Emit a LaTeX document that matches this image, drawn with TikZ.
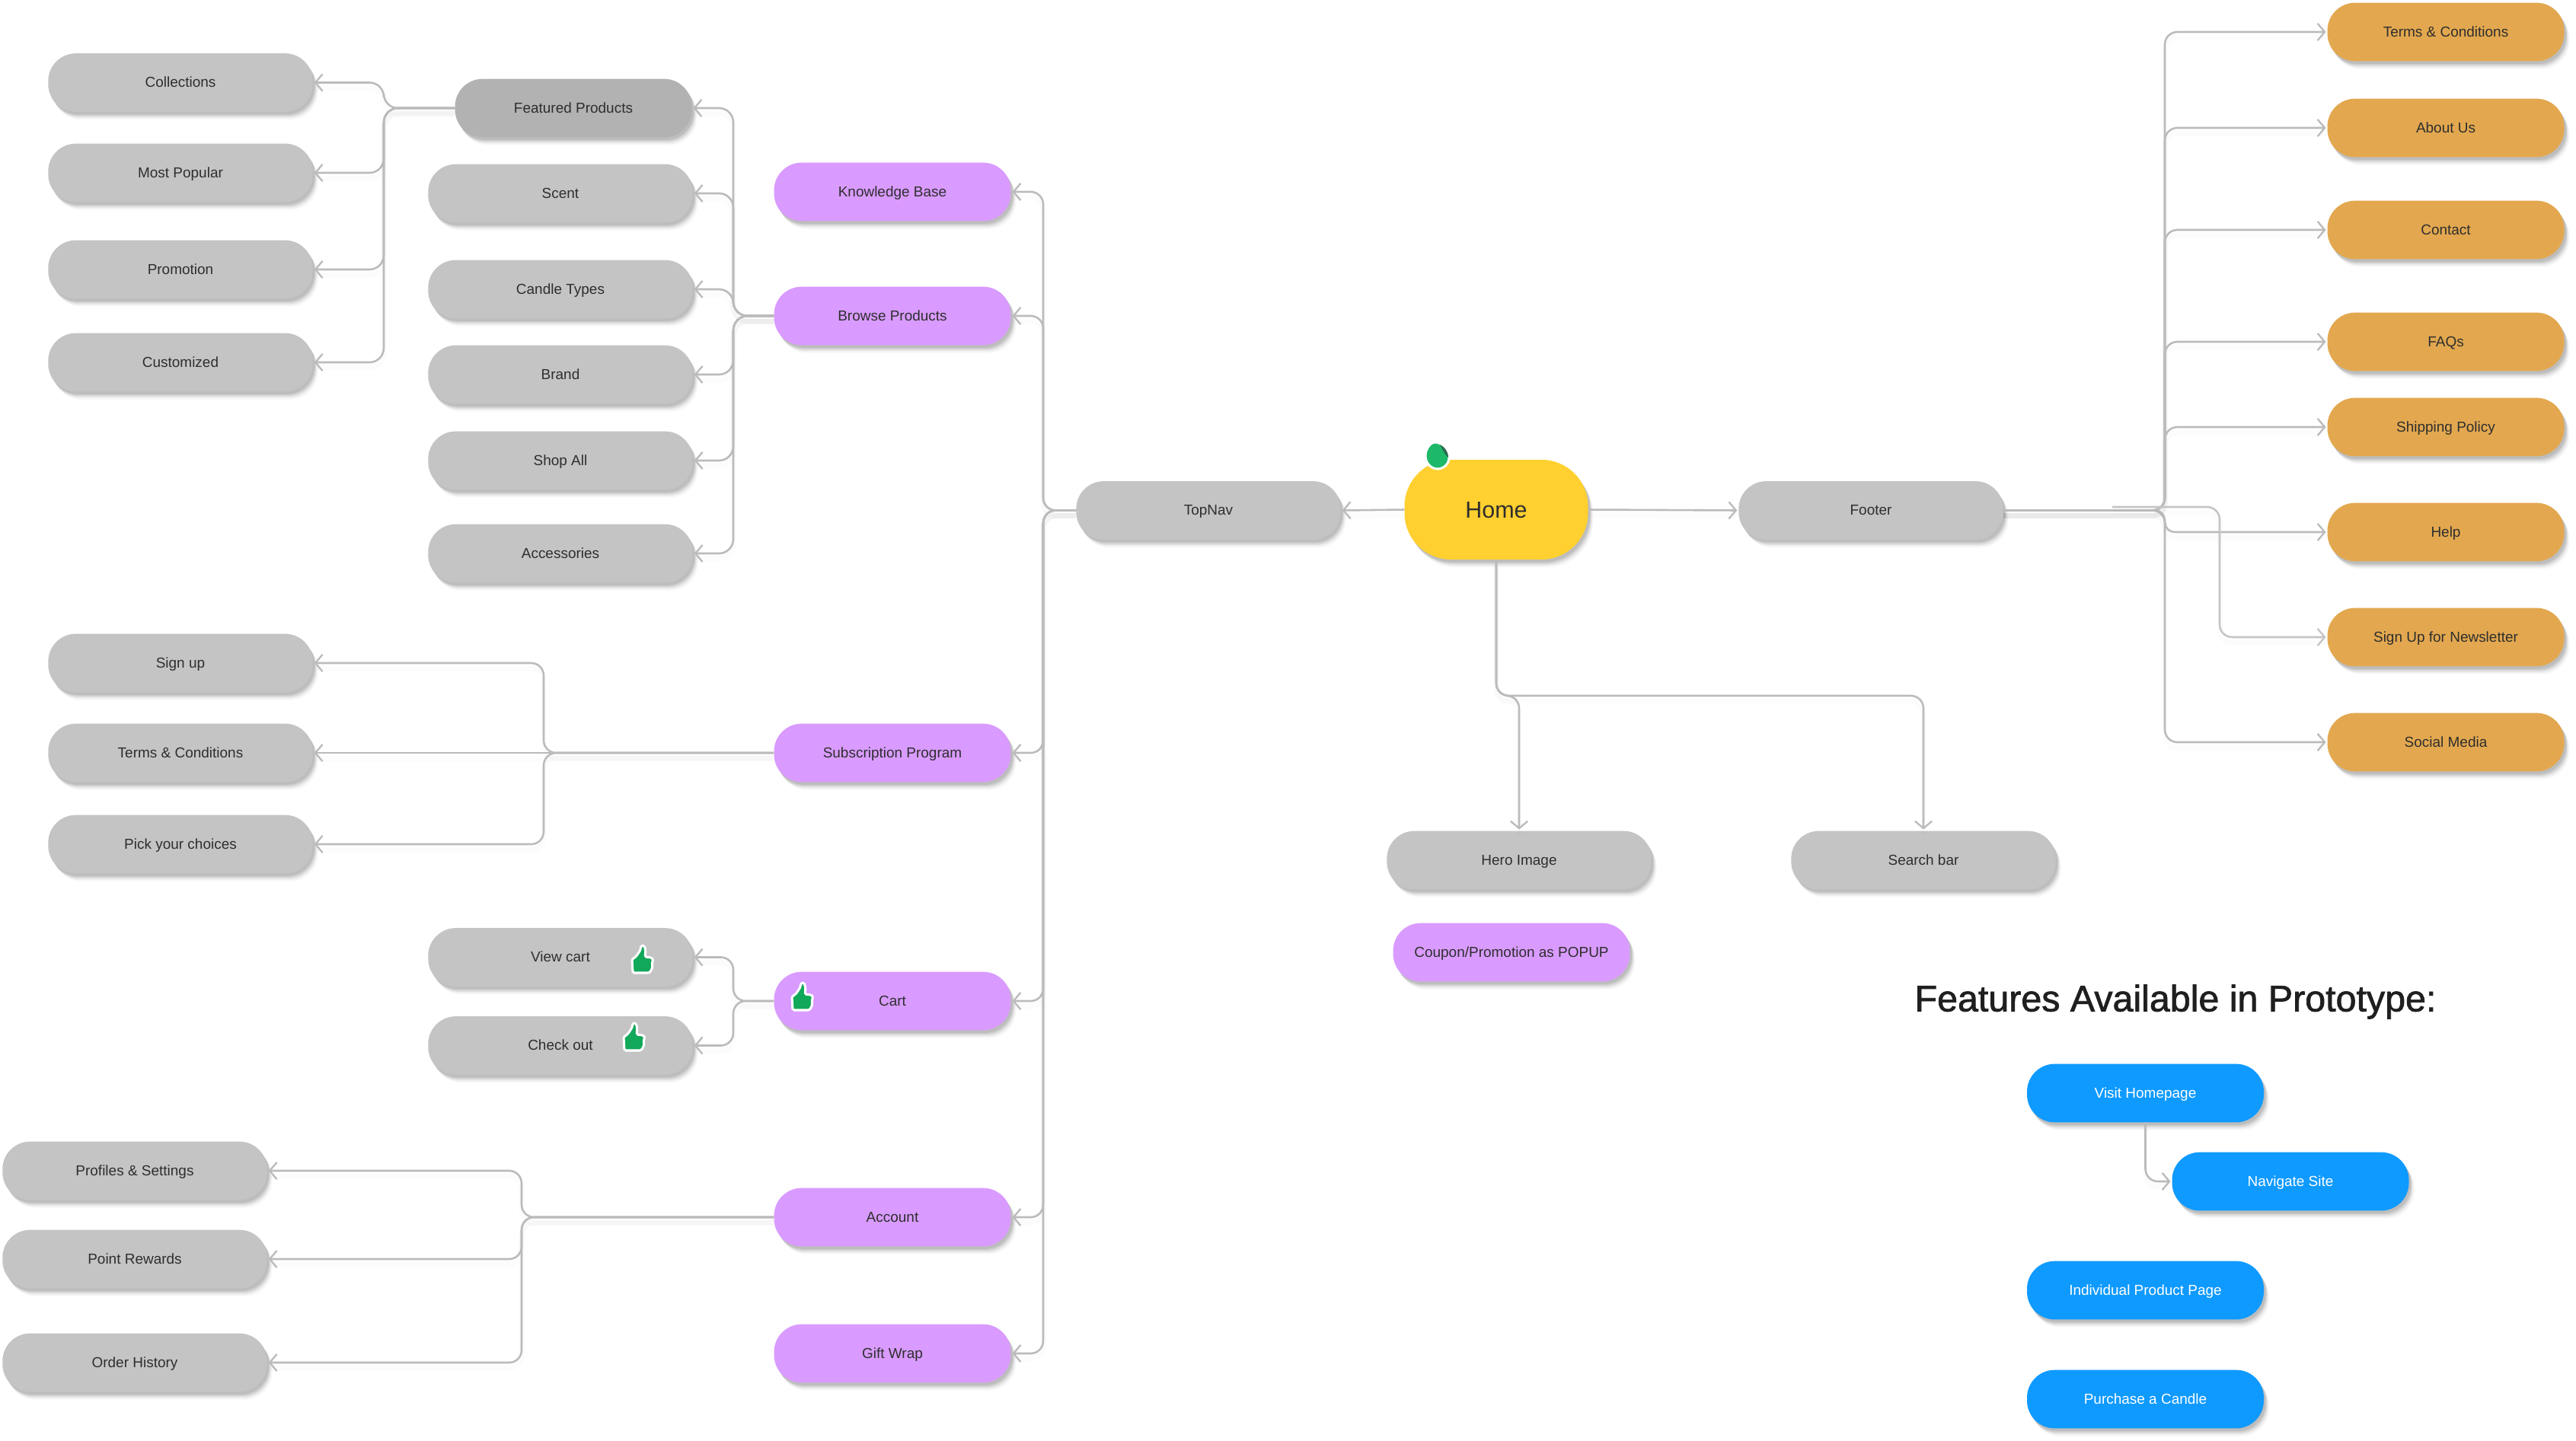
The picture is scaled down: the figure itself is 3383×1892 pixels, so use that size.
\documentclass[tikz,border=0pt]{standalone}
\usepackage{fontspec}
\setmainfont{Liberation Sans}
\newfontfamily\titlefont[FakeBold=1.5]{Liberation Sans}
\usetikzlibrary{arrows.meta,shadows,calc}
\definecolor{cgrey}{HTML}{C4C4C4}
\definecolor{cgreyd}{HTML}{B2B2B2}
\definecolor{cpurple}{HTML}{D99BFF}
\definecolor{corange}{HTML}{E3A84F}
\definecolor{cyellow}{HTML}{FFD02F}
\definecolor{cblue}{HTML}{0F9AFF}
\definecolor{cline}{HTML}{BBBBBB}
\definecolor{ctext}{HTML}{2E2E2E}
\definecolor{cthumb}{HTML}{12A85A}
\definecolor{cleaf}{HTML}{1DB868}
\definecolor{cfold}{HTML}{2A6B50}
\tikzset{
  softshadow/.style={
    general shadow={fill=black,opacity=.025,shadow xshift=6pt,shadow yshift=-9pt},
    general shadow={fill=black,opacity=.04,shadow xshift=5pt,shadow yshift=-7.5pt},
    general shadow={fill=black,opacity=.06,shadow xshift=4pt,shadow yshift=-6pt},
    general shadow={fill=black,opacity=.08,shadow xshift=3pt,shadow yshift=-4.5pt},
    general shadow={fill=black,opacity=.08,shadow xshift=2pt,shadow yshift=-3pt}},
  card/.style={rectangle,rounded corners=31pt,inner sep=0pt,softshadow,text=ctext,
    font=\fontsize{16.2}{19}\selectfont,text height=10.6pt,text depth=0pt,minimum height=65.5pt},
  wide/.style={card,minimum width=296.5pt},
  narrow/.style={card,minimum width=265.4pt},
  greycard/.style={wide,fill=cgrey},
  purplecard/.style={narrow,fill=cpurple},
  orangecard/.style={narrow,fill=corange},
  bluecard/.style={narrow,fill=cblue,text=white},
  conn/.style={draw=cline,line width=2.2pt,rounded corners=14pt,
    -{Straight Barb[length=8pt,width=19pt,line width=2pt]},shorten >=1.5pt,
    preaction={draw=black,draw opacity=.012,line width=6pt,arrows=-,transform canvas={yshift=-6pt}}},
  thumbsticker/.pic={
    \path[fill=cthumb,draw=white,line width=2.6pt,line join=round,rounded corners=1.5pt]
      (-14,-2)--(-9,-5)--(-3,-14)--(-2,-20)--(2,-20)--(4,-13)--(3,-5)--(12,-4)--(14,-1)--(12,3)--(13,8)--(11,13)--(9,16)--(-13,16)--cycle;
  },
  leafsticker/.pic={
    \path[fill=cleaf,draw=white,line width=2.6pt]
      (-3,-18) .. controls (5,-18) and (14,-8) .. (15,0) .. controls (16,10) and (8,17) .. (0,17)
      .. controls (-9,17) and (-16,9) .. (-16,0) .. controls (-16,-9) and (-10,-18) .. (-3,-18) -- cycle;
    \fill[cfold] (3,-15) .. controls (6,-10) and (8,-3) .. (14,2) .. controls (14,-6) and (9,-12) .. (3,-15) -- cycle;
  }
}
\begin{document}
\begin{tikzpicture}[x=0.03cm,y=-0.03cm]
\useasboundingbox (0,0) rectangle (3383,1892);
\fill[white] (0,0) rectangle (3383,1892);

% --- centre
\node[card,fill=cyellow,minimum width=205.7pt,minimum height=111.8pt,rounded corners=52pt,font=\fontsize{26}{30}\selectfont,text height=18pt] (home) at (1965,669.5) {Home};
\node[greycard] (topnav) at (1587,670.5) {TopNav};
\node[greycard] (footer) at (2457,670.5) {Footer};
\node[greycard] (hero) at (1995,1130) {Hero Image};
\node[greycard] (search) at (2526,1130) {Search bar};
\node[purplecard] (coupon) at (1985,1251) {Coupon/Promotion as POPUP};

% --- level 2 (purple)
\node[purplecard] (kb) at (1172,252) {Knowledge Base};
\node[purplecard] (browse) at (1172,415) {Browse Products};
\node[purplecard] (sub) at (1172,989) {Subscription Program};
\node[purplecard] (cart) at (1172,1315) {Cart};
\node[purplecard] (account) at (1172,1599) {Account};
\node[purplecard] (gift) at (1172,1778) {Gift Wrap};

% --- browse children
\node[narrow,fill=cgreyd] (featured) at (753,142) {Featured Products};
\node[greycard] (scent) at (736,254) {Scent};
\node[greycard] (candle) at (736,380) {Candle Types};
\node[greycard] (brand) at (736,492) {Brand};
\node[greycard] (shop) at (736,605) {Shop All};
\node[greycard] (access) at (736,727) {Accessories};

% --- featured children
\node[greycard] (coll) at (237,108.5) {Collections};
\node[greycard] (popular) at (237,227) {Most Popular};
\node[greycard] (promo) at (237,354) {Promotion};
\node[greycard] (custom) at (237,476) {Customized};

% --- subscription children
\node[greycard] (signup) at (237,871) {Sign up};
\node[greycard] (terms) at (237,989) {Terms \& Conditions};
\node[greycard] (pick) at (237,1109) {Pick your choices};

% --- cart children
\node[greycard] (view) at (736,1257.5) {View cart};
\node[greycard] (check) at (736,1373.5) {Check out};

% --- account children
\node[greycard] (profiles) at (177,1538) {Profiles \& Settings};
\node[greycard] (points) at (177,1654) {Point Rewards};
\node[greycard] (orders) at (177,1790) {Order History};

% --- footer children
\node[orangecard] (fterms) at (3212,42) {Terms \& Conditions};
\node[orangecard] (about) at (3212,168) {About Us};
\node[orangecard] (contact) at (3212,302) {Contact};
\node[orangecard] (faqs) at (3212,449) {FAQs};
\node[orangecard] (ship) at (3212,561) {Shipping Policy};
\node[orangecard] (help) at (3212,699) {Help};
\node[orangecard] (news) at (3212,837) {Sign Up for Newsletter};
\node[orangecard] (social) at (3212,975) {Social Media};

% --- prototype legend
\node[font=\titlefont\fontsize{41.3}{48}\selectfont,text=black!88] (title) at (2857,1316) {Features Available in Prototype:};
\node[bluecard] (visit) at (2817.5,1436) {Visit Homepage};
\node[bluecard] (navigate) at (3008,1552) {Navigate Site};
\node[bluecard] (product) at (2817.5,1695) {Individual Product Page};
\node[bluecard] (purchase) at (2817.5,1838) {Purchase a Candle};

% --- trunks
\coordinate (tnav) at (1370,0);
\coordinate (tbrowse) at (963,0);
\coordinate (tfeat) at (504,0);
\coordinate (tsub) at (714,0);
\coordinate (tcart) at (963,0);
\coordinate (tacc) at (685,0);
\coordinate (tfoot) at (2843,0);
\coordinate (tnews) at (2915,0);
\coordinate (nlstart) at (2774,666);
\coordinate (hbus) at (0,914);

% --- connectors
\draw[conn] (home.west) -- (topnav.east);
\draw[conn] (home.east) -- (footer.west);
\draw[conn] (home.south) |- (hbus -| hero.north) -- (hero.north);
\draw[conn] (home.south) |- (hbus -| search.north) -- (search.north);

\foreach \c in {kb,browse,sub,cart,account,gift}
  \draw[conn] (topnav.west) -| (tnav |- \c.east) -- (\c.east);

\foreach \c in {featured,scent,candle,brand,shop,access}
  \draw[conn,rounded corners=16pt] (browse.west) -| (tbrowse |- \c.east) -- (\c.east);

\foreach \c in {coll,popular,promo,custom}
  \draw[conn,rounded corners=16pt] (featured.west) -| (tfeat |- \c.east) -- (\c.east);

\draw[conn] (sub.west) -- (terms.east);
\foreach \c in {signup,pick}
  \draw[conn] (sub.west) -| (tsub |- \c.east) -- (\c.east);

\foreach \c in {view,check}
  \draw[conn] (cart.west) -| (tcart |- \c.east) -- (\c.east);

\foreach \c in {profiles,points,orders}
  \draw[conn] (account.west) -| (tacc |- \c.east) -- (\c.east);

\foreach \c in {fterms,about,contact,faqs,ship,social}
  \draw[conn] (footer.east) -| (tfoot |- \c.west) -- (\c.west);
\draw[conn,rounded corners=11pt] (footer.east) -| (tfoot |- help.west) -- (help.west);
\draw[conn,draw=cline!85] (nlstart) -| (tnews |- news.west) -- (news.west);

\draw[conn] (visit.south) |- (navigate.west);

% --- stickers
\pic at (1888,599) {leafsticker};
\pic at (844,1262) {thumbsticker};
\pic at (833,1364) {thumbsticker};
\pic at (1054,1311) {thumbsticker};
\end{tikzpicture}
\end{document}
